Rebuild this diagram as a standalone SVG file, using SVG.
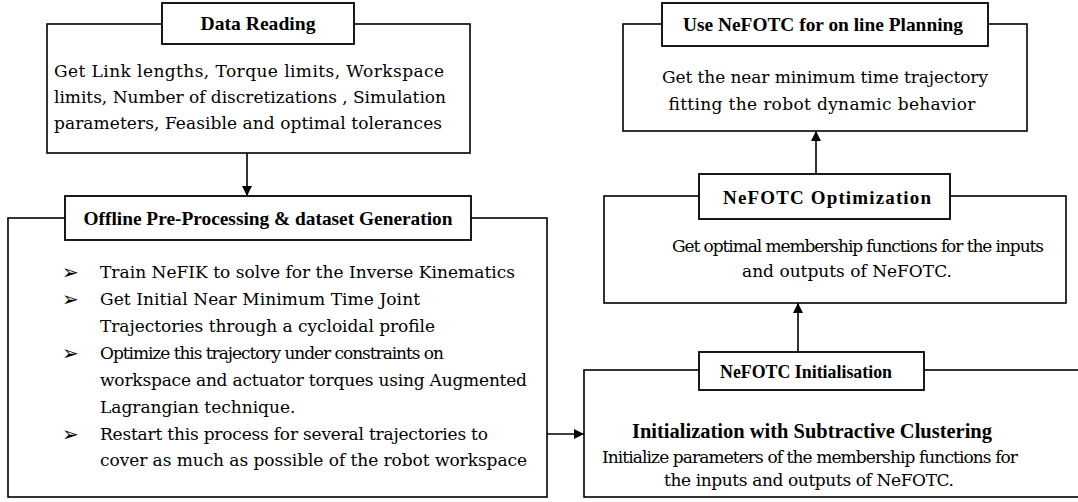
<svg xmlns="http://www.w3.org/2000/svg" width="1078" height="502" viewBox="0 0 1078 502">
<style>
.box{fill:#fff;stroke:#000;stroke-width:1.6}
.tb{fill:#fff;stroke:#000;stroke-width:1.8}
.t{font-family:"Liberation Serif","Times New Roman",serif;font-weight:bold;font-size:19px;fill:#000}
.b{font-family:"DejaVu Serif","Liberation Serif",serif;font-size:17px;fill:#000}
.bb{font-family:"Liberation Serif","Times New Roman",serif;font-weight:bold;font-size:20px;fill:#000}
.bul{font-family:"DejaVu Sans",sans-serif;font-size:20px;fill:#000}
.c{text-anchor:middle}
.ln{stroke:#000;stroke-width:1.6;fill:none}
</style>
<defs>
<marker id="ah" viewBox="0 0 10 10" refX="10" refY="5" markerWidth="10" markerHeight="10" markerUnits="userSpaceOnUse" orient="auto">
<path d="M0,0 L10,5 L0,10 z" fill="#000"/>
</marker>
</defs>

<g id="data-reading">
<rect class="box" x="47" y="24" width="423" height="129"/>
<rect class="tb" x="162" y="3" width="192" height="41"/>
<text class="t c" x="258" y="30" textLength="115" lengthAdjust="spacingAndGlyphs">Data Reading</text>
<text class="b" x="54" y="77" textLength="390" lengthAdjust="spacing">Get Link lengths, Torque limits, Workspace</text>
<text class="b" x="54" y="103" textLength="392" lengthAdjust="spacing">limits, Number of discretizations , Simulation</text>
<text class="b" x="54" y="129" textLength="388" lengthAdjust="spacing">parameters, Feasible and optimal tolerances</text>
</g>

<g id="offline">
<rect class="box" x="8" y="218" width="539" height="279"/>
<rect class="tb" x="65" y="196" width="406" height="44"/>
<text class="t c" x="268" y="225" textLength="369" lengthAdjust="spacingAndGlyphs">Offline Pre-Processing &amp; dataset Generation</text>
<text class="bul" x="62" y="279">➢</text>
<text class="b" x="100" y="278" textLength="415" lengthAdjust="spacing">Train NeFIK to solve for the Inverse Kinematics</text>
<text class="bul" x="62" y="306">➢</text>
<text class="b" x="100" y="305" textLength="320" lengthAdjust="spacing">Get Initial Near Minimum Time Joint</text>
<text class="b" x="100" y="332" textLength="335" lengthAdjust="spacing">Trajectories through a cycloidal profile</text>
<text class="bul" x="62" y="360">➢</text>
<text class="b" x="100" y="359" textLength="344" lengthAdjust="spacing">Optimize this trajectory under constraints on</text>
<text class="b" x="100" y="386" textLength="427" lengthAdjust="spacing">workspace and actuator torques using Augmented</text>
<text class="b" x="100" y="413">Lagrangian technique.</text>
<text class="bul" x="62" y="441">➢</text>
<text class="b" x="100" y="440" textLength="388" lengthAdjust="spacing">Restart this process for several trajectories to</text>
<text class="b" x="100" y="466" textLength="427" lengthAdjust="spacing">cover as much as possible of the robot workspace</text>
</g>

<g id="use-nefotc">
<rect class="box" x="623" y="24" width="404" height="107"/>
<rect class="tb" x="662" y="3" width="326" height="43"/>
<text class="t c" x="823" y="31" textLength="280" lengthAdjust="spacingAndGlyphs">Use NeFOTC for on line Planning</text>
<text class="b c" x="825" y="83" textLength="326" lengthAdjust="spacing">Get the near minimum time trajectory</text>
<text class="b c" x="822" y="110" textLength="307" lengthAdjust="spacing">fitting the robot dynamic behavior</text>
</g>

<g id="nefotc-optimization">
<rect class="box" x="604" y="196" width="462" height="107"/>
<rect class="tb" x="699" y="174" width="251" height="45"/>
<text class="t c" x="827" y="204" textLength="208" lengthAdjust="spacing">NeFOTC Optimization</text>
<text class="b c" x="858" y="252" textLength="372" lengthAdjust="spacing">Get optimal membership functions for the inputs</text>
<text class="b c" x="847" y="277">and outputs of NeFOTC.</text>
</g>

<g id="nefotc-initialisation">
<rect class="box" x="584" y="370" width="500" height="127"/>
<rect class="tb" x="699" y="352" width="225" height="38"/>
<text class="t c" x="806" y="378" textLength="172" lengthAdjust="spacingAndGlyphs">NeFOTC Initialisation</text>
<text class="bb c" x="812" y="438" textLength="360" lengthAdjust="spacingAndGlyphs">Initialization with Subtractive Clustering</text>
<text class="b c" x="810" y="463" textLength="416" lengthAdjust="spacing">Initialize parameters of the membership functions for</text>
<text class="b c" x="809" y="486" textLength="290" lengthAdjust="spacing">the inputs and outputs of NeFOTC.</text>
</g>

<g id="connectors">
<line class="ln" x1="247" y1="153" x2="247" y2="196" marker-end="url(#ah)"/>
<line class="ln" x1="547" y1="434" x2="584" y2="434" marker-end="url(#ah)"/>
<line class="ln" x1="798" y1="352" x2="798" y2="303" marker-end="url(#ah)"/>
<line class="ln" x1="816" y1="174" x2="816" y2="131" marker-end="url(#ah)"/>
</g>
</svg>
